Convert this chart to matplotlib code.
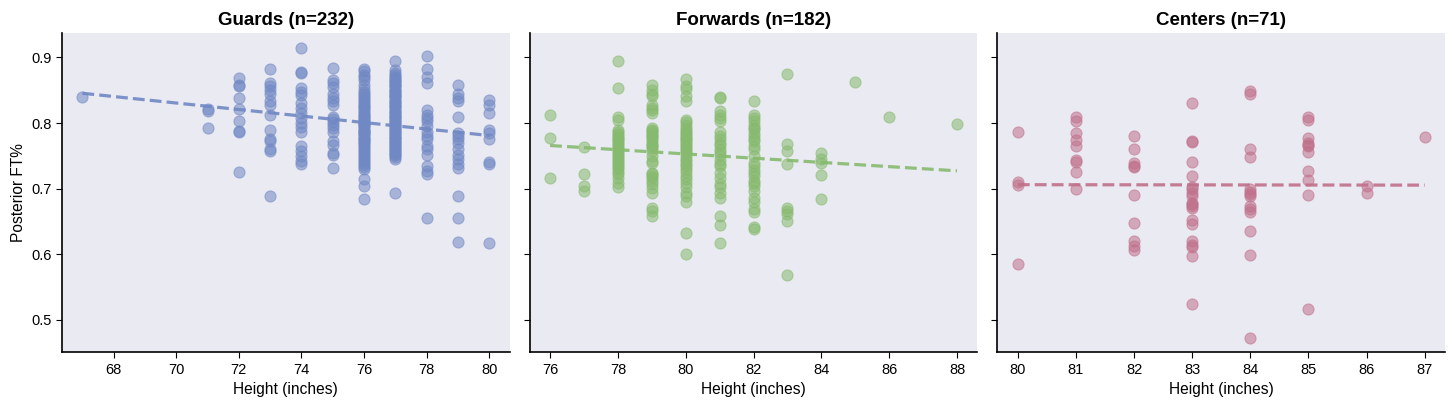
import numpy as np
import matplotlib.pyplot as plt

plt.rcParams['font.family'] = ['Liberation Sans', 'DejaVu Sans']

# guards: heights and posterior FT% per height
guard_heights = [67, 71, 72, 73, 74, 75, 76, 77, 78, 79, 80]
guard_ft = [
    [0.840],
    [0.822, 0.819, 0.792],
    [0.868, 0.858, 0.856, 0.838, 0.821, 0.803, 0.788, 0.786, 0.726],
    [0.882, 0.861, 0.856, 0.850, 0.845, 0.833, 0.828, 0.813, 0.790, 0.776, 0.772, 0.760, 0.757, 0.689],
    [0.915, 0.878, 0.876, 0.853, 0.847, 0.843, 0.830, 0.823, 0.815, 0.808, 0.800, 0.794, 0.787, 0.765,
     0.757, 0.750, 0.742, 0.737],
    [0.884, 0.866, 0.861, 0.855, 0.845, 0.838, 0.833, 0.828, 0.810, 0.806, 0.802, 0.797, 0.792, 0.787,
     0.772, 0.767, 0.755, 0.752, 0.732],
    [0.883, 0.879, 0.874, 0.870, 0.866, 0.858, 0.852, 0.848, 0.845, 0.842, 0.838, 0.835, 0.832, 0.829,
     0.826, 0.824, 0.821, 0.818, 0.816, 0.813, 0.811, 0.808, 0.806, 0.803, 0.801, 0.799, 0.797, 0.795,
     0.792, 0.790, 0.788, 0.785, 0.783, 0.781, 0.778, 0.776, 0.774, 0.771, 0.769, 0.766, 0.763, 0.760,
     0.757, 0.754, 0.751, 0.748, 0.745, 0.742, 0.739, 0.736, 0.733, 0.730, 0.800, 0.787, 0.715, 0.704,
     0.684],
    [0.895, 0.881, 0.876, 0.873, 0.871, 0.869, 0.866, 0.864, 0.862, 0.860, 0.858, 0.856, 0.853, 0.851,
     0.849, 0.847, 0.845, 0.843, 0.841, 0.839, 0.836, 0.834, 0.832, 0.830, 0.828, 0.826, 0.824, 0.822,
     0.819, 0.817, 0.815, 0.813, 0.811, 0.809, 0.807, 0.805, 0.803, 0.801, 0.799, 0.797, 0.795, 0.793,
     0.791, 0.789, 0.787, 0.785, 0.783, 0.781, 0.779, 0.777, 0.775, 0.773, 0.771, 0.769, 0.767, 0.765,
     0.763, 0.761, 0.759, 0.757, 0.755, 0.753, 0.751, 0.748, 0.745, 0.694],
    [0.902, 0.883, 0.870, 0.861, 0.820, 0.813, 0.808, 0.803, 0.795, 0.787, 0.780, 0.775, 0.765, 0.760,
     0.752, 0.734, 0.727, 0.722, 0.655],
    [0.858, 0.845, 0.838, 0.833, 0.809, 0.785, 0.780, 0.775, 0.770, 0.760, 0.752, 0.745, 0.737, 0.732,
     0.689, 0.655, 0.619],
    [0.835, 0.827, 0.816, 0.789, 0.785, 0.776, 0.740, 0.737, 0.617],
]

forward_heights = [76, 77, 78, 79, 80, 81, 82, 83, 84, 85, 86, 88]
forward_ft = [
    [0.812, 0.777, 0.717],
    [0.763, 0.722, 0.704, 0.696],
    [0.894, 0.853, 0.810, 0.805, 0.790, 0.787, 0.784, 0.781, 0.778, 0.775, 0.772, 0.769, 0.766, 0.763,
     0.760, 0.757, 0.754, 0.751, 0.748, 0.745, 0.742, 0.739, 0.736, 0.733, 0.730, 0.726, 0.722, 0.717,
     0.709, 0.703],
    [0.858, 0.851, 0.845, 0.841, 0.828, 0.823, 0.820, 0.815, 0.793, 0.790, 0.788, 0.785, 0.782, 0.780,
     0.777, 0.774, 0.770, 0.767, 0.765, 0.762, 0.757, 0.750, 0.742, 0.739, 0.724, 0.722, 0.719, 0.717,
     0.711, 0.707, 0.701, 0.694, 0.671, 0.666, 0.659],
    [0.867, 0.857, 0.852, 0.841, 0.833, 0.805, 0.801, 0.797, 0.793, 0.790, 0.787, 0.784, 0.781, 0.778,
     0.775, 0.772, 0.769, 0.766, 0.763, 0.760, 0.757, 0.754, 0.750, 0.746, 0.742, 0.738, 0.734, 0.730,
     0.725, 0.720, 0.715, 0.709, 0.702, 0.694, 0.689, 0.680, 0.632, 0.600],
    [0.839, 0.838, 0.818, 0.813, 0.808, 0.803, 0.786, 0.780, 0.775, 0.770, 0.767, 0.760, 0.756, 0.752,
     0.744, 0.738, 0.734, 0.724, 0.717, 0.707, 0.702, 0.694, 0.686, 0.659, 0.645, 0.617],
    [0.833, 0.813, 0.808, 0.803, 0.797, 0.792, 0.791, 0.785, 0.780, 0.775, 0.772, 0.765, 0.760, 0.750,
     0.739, 0.734, 0.729, 0.724, 0.719, 0.712, 0.708, 0.704, 0.696, 0.686, 0.679, 0.669, 0.664, 0.641,
     0.639],
    [0.875, 0.768, 0.757, 0.738, 0.671, 0.666, 0.661, 0.651, 0.569],
    [0.755, 0.745, 0.739, 0.721, 0.684],
    [0.862],
    [0.809],
    [0.799],
]

center_heights = [80, 81, 82, 83, 84, 85, 86, 87]
center_ft = [
    [0.786, 0.710, 0.705, 0.586],
    [0.809, 0.803, 0.785, 0.774, 0.765, 0.743, 0.741, 0.726, 0.699],
    [0.781, 0.761, 0.739, 0.735, 0.733, 0.691, 0.648, 0.621, 0.613, 0.606],
    [0.831, 0.772, 0.771, 0.741, 0.720, 0.702, 0.700, 0.694, 0.689, 0.678, 0.676, 0.674, 0.671, 0.653,
     0.646, 0.621, 0.614, 0.611, 0.598, 0.524],
    [0.849, 0.845, 0.761, 0.748, 0.699, 0.695, 0.692, 0.689, 0.674, 0.669, 0.664, 0.636, 0.599, 0.473],
    [0.809, 0.805, 0.777, 0.770, 0.767, 0.765, 0.756, 0.727, 0.714, 0.690, 0.517],
    [0.704, 0.694],
    [0.779],
]

groups = [
    ('Guards', guard_heights, guard_ft, '#7088C4'),
    ('Forwards', forward_heights, forward_ft, '#86BA6E'),
    ('Centers', center_heights, center_ft, '#C0708A'),
]

fig, axes = plt.subplots(1, 3, figsize=(14.56, 4.09), dpi=100, sharey=True)
fig.subplots_adjust(left=0.0426, right=0.9925, bottom=0.139, top=0.919, wspace=0.045)

for ax, (name, heights, ft, color) in zip(axes, groups):
    x = np.concatenate([[h] * len(v) for h, v in zip(heights, ft)]).astype(float)
    y = np.concatenate(ft)
    ax.set_facecolor('#EAEAF2')
    ax.scatter(x, y, s=64, color=color, alpha=0.55, edgecolors=color, linewidths=0.8, zorder=2)
    coef = np.polyfit(x, y, 1)
    xs = np.array([x.min(), x.max()])
    ax.plot(xs, np.polyval(coef, xs), '--', color=color, lw=2.3, alpha=0.9, zorder=3)
    ax.set_title(f'{name} (n={len(y)})', fontsize=13.5, fontweight='bold')
    ax.set_xlabel('Height (inches)', fontsize=11.2)
    for s in ['top', 'right']:
        ax.spines[s].set_visible(False)
    for s in ['left', 'bottom']:
        ax.spines[s].set_color('black')
        ax.spines[s].set_linewidth(1.2)
    ax.tick_params(labelsize=10.5, color='black', length=4)

axes[0].set_ylabel('Posterior FT%', fontsize=11.2)

fig.savefig('out.png')
